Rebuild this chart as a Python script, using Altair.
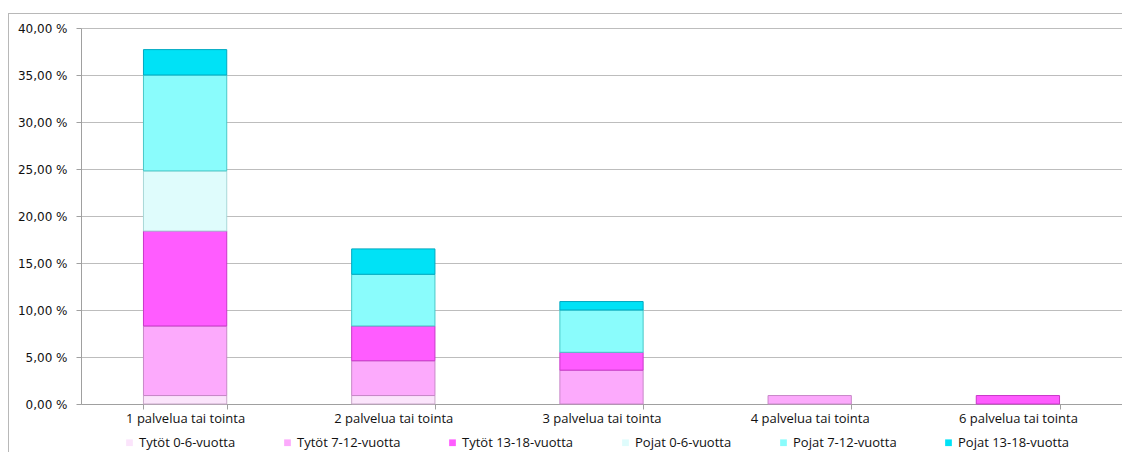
import altair as alt
import pandas as pd

categories = ["1 palvelua tai tointa", "2 palvelua tai tointa", "3 palvelua tai tointa",
              "4 palvelua tai tointa", "6 palvelua tai tointa"]
series = ["Tytöt 0-6-vuotta", "Tytöt 7-12-vuotta", "Tytöt 13-18-vuotta",
          "Pojat 0-6-vuotta", "Pojat 7-12-vuotta", "Pojat 13-18-vuotta"]

tytot_0_6 = [0.9, 0.9, 0.0, 0.0, 0.0]
tytot_7_12 = [7.4, 3.7, 3.6, 0.9, 0.0]
tytot_13_18 = [10.1, 3.7, 1.9, 0.0, 0.9]
pojat_0_6 = [6.4, 0.0, 0.0, 0.0, 0.0]
pojat_7_12 = [10.2, 5.5, 4.5, 0.0, 0.0]
pojat_13_18 = [2.7, 2.7, 0.9, 0.0, 0.0]

fill_colors = ["#fbe4fb", "#fcaafc", "#ff5cff", "#dffcfc", "#8afcfc", "#00e2f6"]
stroke_colors = ["#c8a8c8", "#c888c8", "#c838c8", "#a8d8d8", "#48c8c8", "#00a8c0"]

all_series = [tytot_0_6, tytot_7_12, tytot_13_18, pojat_0_6, pojat_7_12, pojat_13_18]
rows = []
for si, (name, vals) in enumerate(zip(series, all_series)):
    for cat, v in zip(categories, vals):
        if v > 0:
            rows.append({"category": cat, "series": name, "value": v, "idx": si})
df = pd.DataFrame(rows)

label_font = "Open Sans"

bars = alt.Chart(df).mark_bar(strokeWidth=1).encode(
    x=alt.X("category:N", sort=categories, title=None,
            scale=alt.Scale(paddingInner=0.6, paddingOuter=0.3),
            axis=alt.Axis(labelAngle=0, tickBand="extent", labelFont=label_font,
                          labelFontSize=13, labelColor="#111111", labelPadding=3,
                          domainColor="#a0a0a0", tickColor="#a0a0a0", tickSize=5,
                          grid=False)),
    y=alt.Y("value:Q", stack="zero", title=None,
            scale=alt.Scale(domain=[0, 40], nice=False),
            axis=alt.Axis(values=[0, 5, 10, 15, 20, 25, 30, 35, 40],
                          labelExpr="replace(format(datum.value, '.2f'), '.', ',') + ' %'",
                          labelFont="DejaVu Sans", labelFontSize=12, labelColor="#111111",
                          labelPadding=9, tickSize=5, tickColor="#a0a0a0",
                          domainColor="#a0a0a0", gridColor="#bdbdbd", grid=True)),
    color=alt.Color("series:N", sort=series, title=None,
                    scale=alt.Scale(domain=series, range=fill_colors),
                    legend=alt.Legend(orient="none", direction="horizontal", columns=6,
                                      legendX=42, legendY=408, gridAlign="each",
                                      columnPadding=45, symbolType="square",
                                      symbolSize=45, symbolStrokeWidth=0,
                                      labelFont=label_font, labelFontSize=13,
                                      labelColor="#111111", labelOffset=3,
                                      labelLimit=220)),
    stroke=alt.Stroke("series:N", sort=series,
                      scale=alt.Scale(domain=series, range=stroke_colors), legend=None),
    order=alt.Order("idx:Q", sort="ascending"),
)

frame = alt.Chart(pd.DataFrame({"k": [0]})).mark_rule(color="#b8b8b8", strokeWidth=1).encode(
    x=alt.value(-72.5), y=alt.value(-15), y2=alt.value(460)
) + alt.Chart(pd.DataFrame({"k": [0]})).mark_rule(color="#b8b8b8", strokeWidth=1).encode(
    x=alt.value(-72.5), x2=alt.value(1060), y=alt.value(-14.5)
)

chart = alt.layer(bars, frame).properties(
    width=1041, height=376,
    padding={"left": 73, "top": 20, "right": 0, "bottom": 48},
    autosize=alt.AutoSizeParams(type="none"),
).configure_view(stroke=None)

chart.save("out.html", embed_options={"renderer": "svg", "actions": False})
